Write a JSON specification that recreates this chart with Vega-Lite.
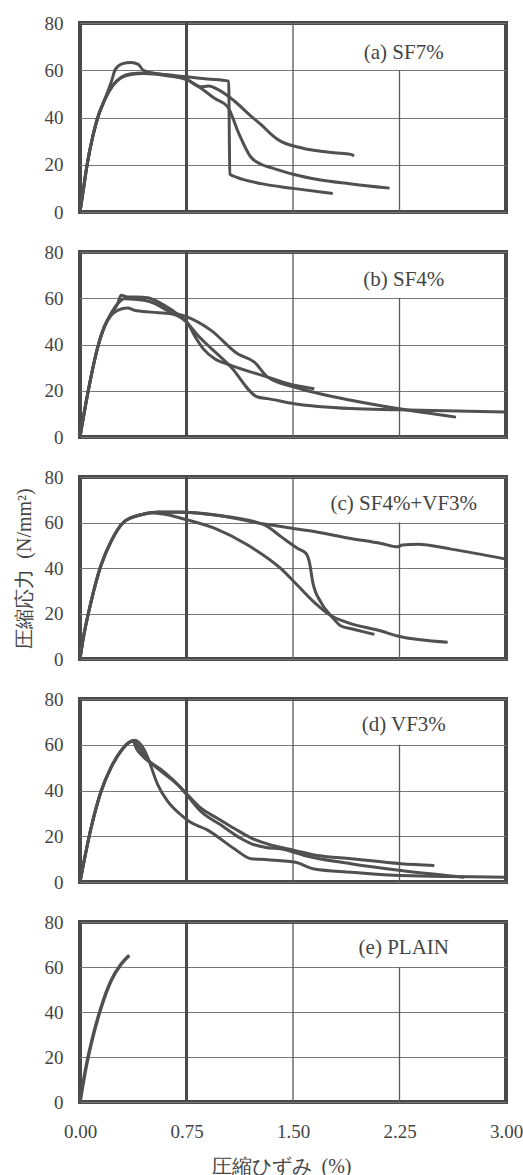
{
  "$schema": "https://vega.github.io/schema/vega-lite/v6.json",
  "background": "white",
  "padding": {"left": 12, "top": 12, "right": 10, "bottom": 5},
  "spacing": 40,
  "bounds": "flush",
  "datasets": {
    "labels": [
      {"p": "a", "x": 2.28, "y": 67.5, "t": "(a) SF7%"},
      {"p": "b", "x": 2.28, "y": 68, "t": "(b) SF4%"},
      {"p": "c", "x": 2.28, "y": 68, "t": "(c) SF4%+VF3%"},
      {"p": "d", "x": 2.28, "y": 68.5, "t": "(d) VF3%"},
      {"p": "e", "x": 2.28, "y": 68.5, "t": "(e) PLAIN"}
    ],
    "curves": [
      {"p":"a","r":1,"x":0,"y":0},{"p":"a","r":1,"x":0.02,"y":8},{"p":"a","r":1,"x":0.05,"y":20},{"p":"a","r":1,"x":0.09,"y":32},{"p":"a","r":1,"x":0.125,"y":40},{"p":"a","r":1,"x":0.17,"y":47},{"p":"a","r":1,"x":0.23,"y":53.5},{"p":"a","r":1,"x":0.29,"y":57},{"p":"a","r":1,"x":0.36,"y":58.5},{"p":"a","r":1,"x":0.45,"y":58.8},{"p":"a","r":1,"x":0.6,"y":58.2},{"p":"a","r":1,"x":0.75,"y":57.2},{"p":"a","r":1,"x":0.9,"y":56.3},{"p":"a","r":1,"x":1.047,"y":55.4},{"p":"a","r":1,"x":1.055,"y":16},{"p":"a","r":1,"x":1.1,"y":14.8},{"p":"a","r":1,"x":1.275,"y":12},{"p":"a","r":1,"x":1.5,"y":10},{"p":"a","r":1,"x":1.78,"y":7.8},
      {"p":"a","r":2,"x":0,"y":0},{"p":"a","r":2,"x":0.02,"y":8},{"p":"a","r":2,"x":0.05,"y":20},{"p":"a","r":2,"x":0.09,"y":32},{"p":"a","r":2,"x":0.125,"y":40},{"p":"a","r":2,"x":0.17,"y":47},{"p":"a","r":2,"x":0.23,"y":53.5},{"p":"a","r":2,"x":0.29,"y":56.8},{"p":"a","r":2,"x":0.36,"y":58.2},{"p":"a","r":2,"x":0.45,"y":58.6},{"p":"a","r":2,"x":0.6,"y":57.8},{"p":"a","r":2,"x":0.75,"y":56},{"p":"a","r":2,"x":0.852,"y":52.4},{"p":"a","r":2,"x":0.95,"y":48},{"p":"a","r":2,"x":1.04,"y":44.5},{"p":"a","r":2,"x":1.12,"y":33},{"p":"a","r":2,"x":1.2,"y":23.5},{"p":"a","r":2,"x":1.275,"y":20.2},{"p":"a","r":2,"x":1.345,"y":18.8},{"p":"a","r":2,"x":1.5,"y":16},{"p":"a","r":2,"x":1.674,"y":13.8},{"p":"a","r":2,"x":1.9,"y":12},{"p":"a","r":2,"x":2.18,"y":10.1},
      {"p":"a","r":3,"x":0,"y":0},{"p":"a","r":3,"x":0.02,"y":8},{"p":"a","r":3,"x":0.05,"y":20},{"p":"a","r":3,"x":0.09,"y":32},{"p":"a","r":3,"x":0.125,"y":40},{"p":"a","r":3,"x":0.17,"y":47},{"p":"a","r":3,"x":0.22,"y":55},{"p":"a","r":3,"x":0.25,"y":60.5},{"p":"a","r":3,"x":0.3,"y":62.8},{"p":"a","r":3,"x":0.36,"y":63.3},{"p":"a","r":3,"x":0.41,"y":62.5},{"p":"a","r":3,"x":0.45,"y":59.8},{"p":"a","r":3,"x":0.6,"y":58},{"p":"a","r":3,"x":0.75,"y":56.2},{"p":"a","r":3,"x":0.85,"y":53},{"p":"a","r":3,"x":0.906,"y":53.3},{"p":"a","r":3,"x":0.97,"y":51.9},{"p":"a","r":3,"x":1.087,"y":47},{"p":"a","r":3,"x":1.204,"y":40.6},{"p":"a","r":3,"x":1.275,"y":37},{"p":"a","r":3,"x":1.345,"y":33},{"p":"a","r":3,"x":1.39,"y":30.8},{"p":"a","r":3,"x":1.556,"y":27.2},{"p":"a","r":3,"x":1.79,"y":25.1},{"p":"a","r":3,"x":1.908,"y":24.4},{"p":"a","r":3,"x":1.93,"y":23.7},
      {"p":"b","r":1,"x":0,"y":0},{"p":"b","r":1,"x":0.054,"y":18.7},{"p":"b","r":1,"x":0.125,"y":38.9},{"p":"b","r":1,"x":0.171,"y":47.6},{"p":"b","r":1,"x":0.218,"y":53.3},{"p":"b","r":1,"x":0.265,"y":57.6},{"p":"b","r":1,"x":0.289,"y":61.3},{"p":"b","r":1,"x":0.336,"y":60.5},{"p":"b","r":1,"x":0.4,"y":60.5},{"p":"b","r":1,"x":0.476,"y":60.2},{"p":"b","r":1,"x":0.5,"y":59.8},{"p":"b","r":1,"x":0.594,"y":56.9},{"p":"b","r":1,"x":0.7,"y":52.5},{"p":"b","r":1,"x":0.754,"y":49.7},{"p":"b","r":1,"x":0.805,"y":44},{"p":"b","r":1,"x":0.87,"y":38},{"p":"b","r":1,"x":0.946,"y":33.9},{"p":"b","r":1,"x":1.063,"y":31},{"p":"b","r":1,"x":1.322,"y":25.9},{"p":"b","r":1,"x":1.51,"y":22.4},{"p":"b","r":1,"x":1.65,"y":20.9},
      {"p":"b","r":2,"x":0,"y":0},{"p":"b","r":2,"x":0.054,"y":18.7},{"p":"b","r":2,"x":0.125,"y":38.9},{"p":"b","r":2,"x":0.171,"y":47.6},{"p":"b","r":2,"x":0.218,"y":53.3},{"p":"b","r":2,"x":0.265,"y":57.6},{"p":"b","r":2,"x":0.312,"y":59.8},{"p":"b","r":2,"x":0.4,"y":59.5},{"p":"b","r":2,"x":0.46,"y":59},{"p":"b","r":2,"x":0.5,"y":58.4},{"p":"b","r":2,"x":0.641,"y":54},{"p":"b","r":2,"x":0.754,"y":51.9},{"p":"b","r":2,"x":0.923,"y":46.1},{"p":"b","r":2,"x":1.11,"y":36},{"p":"b","r":2,"x":1.228,"y":32.4},{"p":"b","r":2,"x":1.322,"y":25.9},{"p":"b","r":2,"x":1.51,"y":21.6},{"p":"b","r":2,"x":1.908,"y":15.9},{"p":"b","r":2,"x":2.237,"y":12.3},{"p":"b","r":2,"x":2.648,"y":8.6},
      {"p":"b","r":3,"x":0,"y":0},{"p":"b","r":3,"x":0.054,"y":18.7},{"p":"b","r":3,"x":0.125,"y":38.9},{"p":"b","r":3,"x":0.171,"y":47.6},{"p":"b","r":3,"x":0.218,"y":52.5},{"p":"b","r":3,"x":0.265,"y":54.8},{"p":"b","r":3,"x":0.336,"y":55.8},{"p":"b","r":3,"x":0.383,"y":54.8},{"p":"b","r":3,"x":0.5,"y":54},{"p":"b","r":3,"x":0.641,"y":53.3},{"p":"b","r":3,"x":0.735,"y":50.5},{"p":"b","r":3,"x":0.829,"y":44},{"p":"b","r":3,"x":1.063,"y":30.3},{"p":"b","r":3,"x":1.251,"y":17.3},{"p":"b","r":3,"x":1.322,"y":16.6},{"p":"b","r":3,"x":1.51,"y":14.4},{"p":"b","r":3,"x":1.908,"y":12.3},{"p":"b","r":3,"x":2.237,"y":11.8},{"p":"b","r":3,"x":2.99,"y":10.8},
      {"p":"c","r":1,"x":0,"y":0},{"p":"c","r":1,"x":0.02,"y":8},{"p":"c","r":1,"x":0.077,"y":24.9},{"p":"c","r":1,"x":0.148,"y":41.2},{"p":"c","r":1,"x":0.218,"y":51.6},{"p":"c","r":1,"x":0.312,"y":60.4},{"p":"c","r":1,"x":0.43,"y":63.4},{"p":"c","r":1,"x":0.55,"y":64.5},{"p":"c","r":1,"x":0.711,"y":64.6},{"p":"c","r":1,"x":0.946,"y":63.4},{"p":"c","r":1,"x":1.298,"y":59.3},{"p":"c","r":1,"x":1.65,"y":56},{"p":"c","r":1,"x":1.908,"y":53},{"p":"c","r":1,"x":2.12,"y":50.8},{"p":"c","r":1,"x":2.237,"y":49.3},{"p":"c","r":1,"x":2.27,"y":50.1},{"p":"c","r":1,"x":2.378,"y":50.4},{"p":"c","r":1,"x":2.613,"y":48.3},{"p":"c","r":1,"x":3.0,"y":43.9},
      {"p":"c","r":2,"x":0,"y":0},{"p":"c","r":2,"x":0.02,"y":8},{"p":"c","r":2,"x":0.077,"y":24.9},{"p":"c","r":2,"x":0.148,"y":41.2},{"p":"c","r":2,"x":0.218,"y":51.6},{"p":"c","r":2,"x":0.312,"y":60.4},{"p":"c","r":2,"x":0.43,"y":63.4},{"p":"c","r":2,"x":0.55,"y":64.6},{"p":"c","r":2,"x":0.711,"y":64.5},{"p":"c","r":2,"x":0.946,"y":63.3},{"p":"c","r":2,"x":1.298,"y":59},{"p":"c","r":2,"x":1.415,"y":53.8},{"p":"c","r":2,"x":1.533,"y":48.6},{"p":"c","r":2,"x":1.592,"y":46.4},{"p":"c","r":2,"x":1.615,"y":42.7},{"p":"c","r":2,"x":1.639,"y":33.8},{"p":"c","r":2,"x":1.697,"y":24.9},{"p":"c","r":2,"x":1.768,"y":19},{"p":"c","r":2,"x":1.838,"y":14.5},{"p":"c","r":2,"x":1.932,"y":13},{"p":"c","r":2,"x":2.073,"y":10.8},
      {"p":"c","r":3,"x":0,"y":0},{"p":"c","r":3,"x":0.02,"y":8},{"p":"c","r":3,"x":0.077,"y":24.9},{"p":"c","r":3,"x":0.148,"y":41.2},{"p":"c","r":3,"x":0.218,"y":51.6},{"p":"c","r":3,"x":0.312,"y":60.4},{"p":"c","r":3,"x":0.43,"y":63.4},{"p":"c","r":3,"x":0.5,"y":64.3},{"p":"c","r":3,"x":0.6,"y":63.6},{"p":"c","r":3,"x":0.711,"y":61.9},{"p":"c","r":3,"x":0.946,"y":57.5},{"p":"c","r":3,"x":1.181,"y":50.1},{"p":"c","r":3,"x":1.415,"y":39.7},{"p":"c","r":3,"x":1.533,"y":32.3},{"p":"c","r":3,"x":1.65,"y":24.9},{"p":"c","r":3,"x":1.768,"y":19},{"p":"c","r":3,"x":1.885,"y":16},{"p":"c","r":3,"x":2.12,"y":12.3},{"p":"c","r":3,"x":2.237,"y":10.1},{"p":"c","r":3,"x":2.589,"y":7.4},
      {"p":"d","r":1,"x":0,"y":0},{"p":"d","r":1,"x":0.077,"y":23.4},{"p":"d","r":1,"x":0.148,"y":39.6},{"p":"d","r":1,"x":0.218,"y":50},{"p":"d","r":1,"x":0.289,"y":57.3},{"p":"d","r":1,"x":0.35,"y":61.2},{"p":"d","r":1,"x":0.371,"y":61.7},{"p":"d","r":1,"x":0.4,"y":58},{"p":"d","r":1,"x":0.45,"y":54.5},{"p":"d","r":1,"x":0.57,"y":49.2},{"p":"d","r":1,"x":0.664,"y":44.1},{"p":"d","r":1,"x":0.758,"y":38.1},{"p":"d","r":1,"x":0.852,"y":32.3},{"p":"d","r":1,"x":0.97,"y":27.8},{"p":"d","r":1,"x":1.087,"y":23.4},{"p":"d","r":1,"x":1.204,"y":19.3},{"p":"d","r":1,"x":1.275,"y":17.5},{"p":"d","r":1,"x":1.51,"y":13.8},{"p":"d","r":1,"x":1.674,"y":11.6},{"p":"d","r":1,"x":1.908,"y":10.2},{"p":"d","r":1,"x":2.26,"y":8},{"p":"d","r":1,"x":2.495,"y":7.2},
      {"p":"d","r":2,"x":0,"y":0},{"p":"d","r":2,"x":0.077,"y":23.4},{"p":"d","r":2,"x":0.148,"y":39.6},{"p":"d","r":2,"x":0.218,"y":50},{"p":"d","r":2,"x":0.289,"y":57.3},{"p":"d","r":2,"x":0.35,"y":61.2},{"p":"d","r":2,"x":0.371,"y":61.5},{"p":"d","r":2,"x":0.42,"y":58.5},{"p":"d","r":2,"x":0.47,"y":54},{"p":"d","r":2,"x":0.57,"y":48.5},{"p":"d","r":2,"x":0.711,"y":41.1},{"p":"d","r":2,"x":0.77,"y":36.7},{"p":"d","r":2,"x":0.852,"y":30.8},{"p":"d","r":2,"x":0.993,"y":24.9},{"p":"d","r":2,"x":1.134,"y":19},{"p":"d","r":2,"x":1.204,"y":16.8},{"p":"d","r":2,"x":1.3,"y":15.2},{"p":"d","r":2,"x":1.439,"y":14.2},{"p":"d","r":2,"x":1.58,"y":11.6},{"p":"d","r":2,"x":1.908,"y":8},{"p":"d","r":2,"x":2.26,"y":5},{"p":"d","r":2,"x":2.706,"y":2.1},
      {"p":"d","r":3,"x":0,"y":0},{"p":"d","r":3,"x":0.077,"y":23.4},{"p":"d","r":3,"x":0.148,"y":39.6},{"p":"d","r":3,"x":0.218,"y":50},{"p":"d","r":3,"x":0.289,"y":57.3},{"p":"d","r":3,"x":0.35,"y":61.2},{"p":"d","r":3,"x":0.39,"y":62},{"p":"d","r":3,"x":0.41,"y":61.2},{"p":"d","r":3,"x":0.45,"y":58},{"p":"d","r":3,"x":0.477,"y":54.4},{"p":"d","r":3,"x":0.547,"y":42.6},{"p":"d","r":3,"x":0.618,"y":35.2},{"p":"d","r":3,"x":0.711,"y":29.3},{"p":"d","r":3,"x":0.77,"y":26.4},{"p":"d","r":3,"x":0.899,"y":22.7},{"p":"d","r":3,"x":1.087,"y":14.5},{"p":"d","r":3,"x":1.204,"y":10.2},{"p":"d","r":3,"x":1.275,"y":9.9},{"p":"d","r":3,"x":1.51,"y":8.7},{"p":"d","r":3,"x":1.65,"y":5.7},{"p":"d","r":3,"x":1.908,"y":4.3},{"p":"d","r":3,"x":2.26,"y":2.8},{"p":"d","r":3,"x":3.0,"y":2.1},
      {"p":"e","r":1,"x":0,"y":0},{"p":"e","r":1,"x":0.042,"y":15.3},{"p":"e","r":1,"x":0.089,"y":28.6},{"p":"e","r":1,"x":0.148,"y":41.9},{"p":"e","r":1,"x":0.218,"y":53.8},{"p":"e","r":1,"x":0.289,"y":61.2},{"p":"e","r":1,"x":0.347,"y":65.2}
    ]
  },
  "vconcat": [
    {
      "width": 426, "height": 189,
      "layer": [
        {"data": {"values": [{}]}, "mark": {"type": "rule", "color": "#4a4a4a", "strokeWidth": 3}, "encoding": {"x": {"datum": 0.75, "type": "quantitative"}}},
        {"data": {"values": [{}]}, "mark": {"type": "rule", "color": "#5a5a5a", "strokeWidth": 1.3}, "encoding": {"x": {"datum": 1.5, "type": "quantitative"}}},
        {"data": {"values": [{}]}, "mark": {"type": "rule", "color": "#5a5a5a", "strokeWidth": 1.3}, "encoding": {"x": {"datum": 2.25, "type": "quantitative"}, "y": {"datum": 0, "type": "quantitative"}, "y2": {"datum": 60}}},
        {"data": {"name": "curves"}, "transform": [{"filter": "datum.p == 'a'"}], "mark": {"type": "line", "interpolate": "monotone"},
         "encoding": {"x": {"field": "x", "type": "quantitative", "scale": {"domain": [0, 3]}, "axis": {"title": null}},
                      "y": {"field": "y", "type": "quantitative", "scale": {"domain": [0, 80]}, "axis": {"title": null}},
                      "detail": {"field": "r"}}},
        {"data": {"name": "labels"}, "transform": [{"filter": "datum.p == 'a'"}], "mark": "text",
         "encoding": {"x": {"field": "x", "type": "quantitative"}, "y": {"field": "y", "type": "quantitative"}, "text": {"field": "t"}}}
      ]
    },
    {
      "width": 426, "height": 185,
      "layer": [
        {"data": {"values": [{}]}, "mark": {"type": "rule", "color": "#4a4a4a", "strokeWidth": 3}, "encoding": {"x": {"datum": 0.75, "type": "quantitative"}}},
        {"data": {"values": [{}]}, "mark": {"type": "rule", "color": "#5a5a5a", "strokeWidth": 1.3}, "encoding": {"x": {"datum": 1.5, "type": "quantitative"}}},
        {"data": {"values": [{}]}, "mark": {"type": "rule", "color": "#5a5a5a", "strokeWidth": 1.3}, "encoding": {"x": {"datum": 2.25, "type": "quantitative"}, "y": {"datum": 0, "type": "quantitative"}, "y2": {"datum": 60}}},
        {"data": {"name": "curves"}, "transform": [{"filter": "datum.p == 'b'"}], "mark": {"type": "line", "interpolate": "monotone"},
         "encoding": {"x": {"field": "x", "type": "quantitative", "scale": {"domain": [0, 3]}, "axis": {"title": null}},
                      "y": {"field": "y", "type": "quantitative", "scale": {"domain": [0, 80]}, "axis": {"title": null}},
                      "detail": {"field": "r"}}},
        {"data": {"name": "labels"}, "transform": [{"filter": "datum.p == 'b'"}], "mark": "text",
         "encoding": {"x": {"field": "x", "type": "quantitative"}, "y": {"field": "y", "type": "quantitative"}, "text": {"field": "t"}}}
      ]
    },
    {
      "width": 426, "height": 182,
      "layer": [
        {"data": {"values": [{}]}, "mark": {"type": "rule", "color": "#4a4a4a", "strokeWidth": 3}, "encoding": {"x": {"datum": 0.75, "type": "quantitative"}}},
        {"data": {"values": [{}]}, "mark": {"type": "rule", "color": "#5a5a5a", "strokeWidth": 1.3}, "encoding": {"x": {"datum": 1.5, "type": "quantitative"}}},
        {"data": {"values": [{}]}, "mark": {"type": "rule", "color": "#5a5a5a", "strokeWidth": 1.3}, "encoding": {"x": {"datum": 2.25, "type": "quantitative"}, "y": {"datum": 0, "type": "quantitative"}, "y2": {"datum": 60}}},
        {"data": {"name": "curves"}, "transform": [{"filter": "datum.p == 'c'"}], "mark": {"type": "line", "interpolate": "monotone"},
         "encoding": {"x": {"field": "x", "type": "quantitative", "scale": {"domain": [0, 3]}, "axis": {"title": null}},
                      "y": {"field": "y", "type": "quantitative", "scale": {"domain": [0, 80]}, "axis": {"title": "圧縮応力\u2002(N/mm²)"}},
                      "detail": {"field": "r"}}},
        {"data": {"name": "labels"}, "transform": [{"filter": "datum.p == 'c'"}], "mark": "text",
         "encoding": {"x": {"field": "x", "type": "quantitative"}, "y": {"field": "y", "type": "quantitative"}, "text": {"field": "t"}}}
      ]
    },
    {
      "width": 426, "height": 183,
      "layer": [
        {"data": {"values": [{}]}, "mark": {"type": "rule", "color": "#4a4a4a", "strokeWidth": 3}, "encoding": {"x": {"datum": 0.75, "type": "quantitative"}}},
        {"data": {"values": [{}]}, "mark": {"type": "rule", "color": "#5a5a5a", "strokeWidth": 1.3}, "encoding": {"x": {"datum": 1.5, "type": "quantitative"}}},
        {"data": {"values": [{}]}, "mark": {"type": "rule", "color": "#5a5a5a", "strokeWidth": 1.3}, "encoding": {"x": {"datum": 2.25, "type": "quantitative"}, "y": {"datum": 0, "type": "quantitative"}, "y2": {"datum": 60}}},
        {"data": {"name": "curves"}, "transform": [{"filter": "datum.p == 'd'"}], "mark": {"type": "line", "interpolate": "monotone"},
         "encoding": {"x": {"field": "x", "type": "quantitative", "scale": {"domain": [0, 3]}, "axis": {"title": null}},
                      "y": {"field": "y", "type": "quantitative", "scale": {"domain": [0, 80]}, "axis": {"title": null}},
                      "detail": {"field": "r"}}},
        {"data": {"name": "labels"}, "transform": [{"filter": "datum.p == 'd'"}], "mark": "text",
         "encoding": {"x": {"field": "x", "type": "quantitative"}, "y": {"field": "y", "type": "quantitative"}, "text": {"field": "t"}}}
      ]
    },
    {
      "width": 426, "height": 180,
      "layer": [
        {"data": {"values": [{}]}, "mark": {"type": "rule", "color": "#4a4a4a", "strokeWidth": 3}, "encoding": {"x": {"datum": 0.75, "type": "quantitative"}}},
        {"data": {"values": [{}]}, "mark": {"type": "rule", "color": "#5a5a5a", "strokeWidth": 1.3}, "encoding": {"x": {"datum": 1.5, "type": "quantitative"}}},
        {"data": {"values": [{}]}, "mark": {"type": "rule", "color": "#5a5a5a", "strokeWidth": 1.3}, "encoding": {"x": {"datum": 2.25, "type": "quantitative"}, "y": {"datum": 0, "type": "quantitative"}, "y2": {"datum": 60}}},
        {"data": {"name": "curves"}, "transform": [{"filter": "datum.p == 'e'"}], "mark": {"type": "line", "interpolate": "monotone", "strokeWidth": 3.5},
         "encoding": {"x": {"field": "x", "type": "quantitative", "scale": {"domain": [0, 3]}, "axis": {"title": "圧縮ひずみ\u2002(%)", "labels": true, "values": [0, 0.75, 1.5, 2.25, 3], "format": ".2f", "labelFlush": false, "titleX": 201, "titleY": 64, "titleBaseline": "middle", "titleAnchor": null}},
                      "y": {"field": "y", "type": "quantitative", "scale": {"domain": [0, 80]}, "axis": {"title": null}},
                      "detail": {"field": "r"}}},
        {"data": {"name": "labels"}, "transform": [{"filter": "datum.p == 'e'"}], "mark": "text",
         "encoding": {"x": {"field": "x", "type": "quantitative"}, "y": {"field": "y", "type": "quantitative"}, "text": {"field": "t"}}}
      ]
    }
  ],
  "config": {
    "view": {"stroke": "#4a4a4a", "strokeWidth": 4},
    "font": "Liberation Serif",
    "axis": {"labelFont": "Liberation Serif", "labelFontSize": 19, "labelColor": "#444", "ticks": false, "domain": false,
             "titleFont": "Liberation Serif", "titleFontSize": 20, "titleFontWeight": "normal", "titleColor": "#444"},
    "axisY": {"values": [0, 20, 40, 60, 80], "grid": true, "gridColor": "#777", "gridWidth": 1, "labelPadding": 17, "titlePadding": 10},
    "axisX": {"grid": false, "labels": false, "labelFlush": false, "labelPadding": 20},
    "line": {"color": "#505050", "strokeWidth": 3},
    "rule": {"strokeCap": "butt"},
    "text": {"font": "Liberation Serif", "fontSize": 21, "color": "#444", "align": "center", "baseline": "middle"}
  }
}
